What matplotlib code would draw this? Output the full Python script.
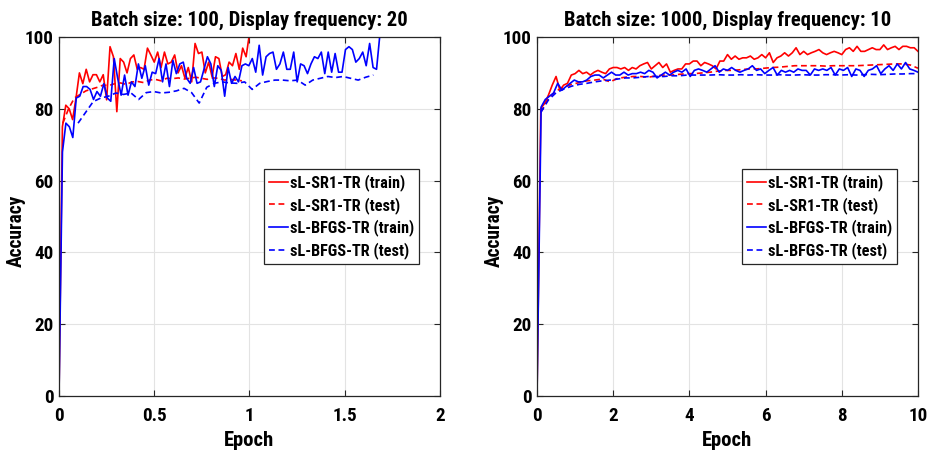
import numpy as np
import matplotlib
matplotlib.use("Agg")
import matplotlib.pyplot as plt
from matplotlib import font_manager

# ---------------- data: left panel (batch 100, display freq 20) ----------------
left_title = "Batch size: 100, Display frequency: 20"
left_sr1_train = [0, 75, 81, 80, 77, 83, 90, 87, 91, 87.5, 89.5, 89.5, 87.5, 89.5, 82.5, 97.3,
                  94.5, 79.2, 94, 93, 90, 94, 95, 91, 91.5, 91, 96.9, 95, 93, 95.8, 91.5, 95.8,
                  92.5, 93, 95, 90, 92, 88.6, 91.5, 87.5, 98.2, 95.4, 95.8, 90, 93, 88.9, 94.5,
                  94, 89, 89.5, 93, 92, 95.4, 91, 96.9, 94.5, 101]
left_sr1_train_end = 1.0
left_sr1_test = [76, 80, 83, 84, 85, 85.5, 86, 86.6, 86.5, 87, 87.2, 86.8, 87.5, 87.6, 87.3, 88,
                 88.2, 87.8, 88.5, 88.4, 88.6, 88.3, 88.5, 88.8, 88.5, 88.2, 88.6, 88.5, 88,
                 88.2, 88, 87.8]
left_sr1_test_range = (0.02, 0.96)
left_bfgs_train = [0, 68, 76, 75, 72, 83, 83.5, 86.2, 86.2, 85.4, 82.6, 84.8, 83.5, 87, 83, 82.1,
                   94, 88.5, 83.8, 89.4, 83.8, 87.5, 86.2, 92.5, 88.5, 92, 86.6, 90.2, 89.8, 94,
                   87.5, 92.5, 86.2, 93.5, 89.8, 92.5, 93, 88.5, 87.1, 91.5, 87.1, 87.5, 91, 94.5,
                   92.5, 86.2, 92, 90.7, 83.5, 91.5, 87.1, 89, 87.5, 92, 92.5, 92, 94, 90.2, 97.7,
                   89.4, 94.5, 95.4, 95.8, 91, 92.5, 95.8, 91, 91, 95.8, 87.5, 92.5, 92, 89.8,
                   92.5, 94.5, 94, 95.8, 89.8, 95.8, 90.2, 95.4, 90.2, 90.2, 96.5, 97.3, 96.5,
                   93, 94, 95.8, 92, 98.2, 91.5, 91, 101]
left_bfgs_train_end = 1.685
left_bfgs_test = [76, 79, 82, 83, 83.5, 84.4, 84, 84.4, 82.6, 84.5, 84.8, 84.4, 84.6, 85, 85.7,
                  84.5, 81.6, 86, 87.1, 87.5, 87.2, 87.1, 87.5, 85.4, 87.1, 87.6, 88, 88, 87.8,
                  88, 86.6, 88, 88.5, 89, 88.7, 89, 88.5, 88, 88.8, 89.4]
left_bfgs_test_range = (0.1, 1.65)
left_xticks = [0, 0.5, 1, 1.5, 2]
left_xticklabels = ["0", "0.5", "1", "1.5", "2"]

# ---------------- data: right panel (batch 1000, display freq 10) ----------------
right_title = "Batch size: 1000, Display frequency: 10"
right_sr1_train = [0, 80.1, 81.5, 83.8, 86.6, 89, 85.2, 86.6, 87.1, 89.4, 89.8, 90.7, 89.8, 90.2,
                   89.4, 90.2, 90.7, 90.2, 89.8, 91.1, 91.5, 91.5, 91.1, 91.5, 90.7, 91.5, 91.1,
                   92, 92.5, 92.9, 91.1, 92, 92.9, 91.5, 92.5, 90.2, 90.7, 91.1, 91.1, 92.5, 92.5,
                   93.3, 93.3, 92, 92.9, 92.5, 92, 91.1, 93.3, 93.3, 95.1, 93.8, 94.7, 93.8, 94.2,
                   94.2, 94.7, 93.8, 94.2, 95.1, 94.2, 95.6, 92.9, 94.2, 94.7, 95.6, 94.7, 95.6,
                   97, 95.1, 96, 95.1, 95.6, 96, 96.5, 95.6, 95.1, 95.6, 96, 95.6, 95.1, 96.5, 97,
                   96, 97.4, 96, 96, 96.5, 97, 96.5, 96.5, 97.8, 96.5, 97, 97.4, 96.5, 97.4, 97.4,
                   97, 97, 96]
right_sr1_test = [79, 83, 85, 86, 86.8, 87.3, 87.8, 88, 88.3, 87.5, 88.5, 88.8, 89, 89, 88.8,
                  89.2, 89.4, 89.4, 89.6, 89.8, 89.8, 90, 90.2, 90.5, 90.7, 90.7, 90.9, 91.1,
                  91.1, 91.3, 91.5, 91.6, 91.8, 92, 92, 92, 92, 91.9, 92, 92, 92, 92, 92.1, 92.2,
                  92.3, 92.4, 92.5, 92.5, 92.2, 91.3]
right_bfgs_train = [0, 80.5, 82.6, 83.5, 84.4, 87.1, 85.2, 86.2, 87.1, 88, 87.5, 87.5, 88, 89,
                    89.4, 89.4, 88.6, 89.4, 90.2, 89.4, 89.4, 90.2, 89.4, 89.8, 89.8, 90.2, 89.8,
                    90.7, 90.2, 88.6, 89.4, 90.2, 89.4, 90.2, 90.7, 90.2, 91.1, 89, 90.7, 91.1,
                    90.7, 90.2, 91.1, 92, 90.2, 91.1, 90.7, 91.5, 90.7, 90.2, 90.7, 91.1, 92, 90.7,
                    91.1, 89.8, 90.7, 91.5, 89.4, 90.7, 90.2, 90.7, 90.2, 91.1, 90.7, 90.7, 89.4,
                    91.1, 90.7, 91.1, 90.7, 91.5, 89.4, 91.1, 90.7, 91.5, 89, 91.1, 90.7, 89, 90.7,
                    91.1, 92, 89.8, 91.1, 92, 90.7, 92.5, 91.1, 92.9, 91.1, 90.7, 90.2]
right_bfgs_test = [79, 82.5, 84.5, 85.5, 86.3, 86.8, 87.1, 87.5, 87.8, 88, 88.3, 88.6, 88.6, 88.8,
                   89, 89, 89, 89.2, 89.2, 89.4, 89.4, 89.4, 89.4, 89.5, 89.4, 89.4, 89.5, 89.4,
                   89.5, 89.4, 89.4, 89.5, 89.4, 89.4, 89.5, 89.4, 89.4, 89.5, 89.5, 89.4, 89.5,
                   89.4, 89.5, 89.6, 89.5, 89.6, 89.7, 89.7, 89.8, 89.8]
right_test_range = (0.1, 10.0)
right_xticks = [0, 2, 4, 6, 8, 10]
right_xticklabels = ["0", "2", "4", "6", "8", "10"]

yticks = [0, 20, 40, 60, 80, 100]
labels = ["sL-SR1-TR (train)", "sL-SR1-TR (test)", "sL-BFGS-TR (train)", "sL-BFGS-TR (test)"]

# ---------------- fonts ----------------
names = {f.name for f in font_manager.fontManager.ttflist}
k = 1.0
chosen = None
for cand in ['Liberation Sans Narrow', 'Roboto Condensed', 'Arial Narrow', 'Open Sans Condensed']:
    if cand in names:
        chosen = cand
        break
if chosen is not None:
    plt.rcParams['font.family'] = [chosen, 'Liberation Sans', 'DejaVu Sans']
    k = 1.0 / 0.84
else:
    plt.rcParams['font.family'] = ['Liberation Sans', 'DejaVu Sans']
plt.rcParams['font.weight'] = 'bold'
fs_tick = 11.5 * k
fs_title = 12.5 * k
fs_xlabel = 12.5 * k
fs_ylabel = 11.8 * k
fs_leg = 9.8 * k

# ---------------- figure ----------------
fig = plt.figure(figsize=(9.29, 4.57), dpi=100)
W, H = 929, 457
def axrect(x0, x1, ytop, ybot):
    return [x0 / W, 1 - ybot / H, (x1 - x0) / W, (ybot - ytop) / H]

axL = fig.add_axes(axrect(59, 440, 37, 396))
axR = fig.add_axes(axrect(537, 918, 37, 396))

dash = (0, (3.5, 2.2))
lw = 1.2

def style(ax, title, xlim, xticks, xticklabels):
    ax.set_xlim(*xlim)
    ax.set_ylim(0, 100)
    ax.set_xticks(xticks)
    ax.set_xticklabels(xticklabels)
    ax.set_yticks(yticks)
    ax.grid(True, color='#e3e3e3', linewidth=0.8)
    ax.set_axisbelow(True)
    ax.tick_params(direction='in', top=True, right=True, length=4, width=0.8,
                   labelsize=fs_tick, color='#262626')
    ax.tick_params(axis='x', pad=8)
    ax.tick_params(axis='y', pad=4)
    for lab in ax.get_xticklabels() + ax.get_yticklabels():
        lab.set_fontweight('bold')
    for s in ax.spines.values():
        s.set_color('#262626')
        s.set_linewidth(0.9)
    ax.set_title(title, fontsize=fs_title, fontweight='bold', pad=8)
    ax.set_xlabel("Epoch", fontsize=fs_xlabel, fontweight='bold', labelpad=4)
    ax.set_ylabel("Accuracy", fontsize=fs_ylabel, fontweight='bold')
    ax.yaxis.set_label_coords(-0.087, 0.46)
    leg = ax.legend(loc='upper right', bbox_to_anchor=(0.945, 0.632), fontsize=fs_leg,
                    frameon=True, fancybox=False, framealpha=1, edgecolor='#262626',
                    handlelength=1.2, handletextpad=0.1, labelspacing=0.36,
                    borderpad=0.3, borderaxespad=0.0)
    leg.get_frame().set_linewidth(0.9)
    for t in leg.get_texts():
        t.set_fontweight('bold')

# left panel
x = np.linspace(0, left_sr1_train_end, len(left_sr1_train))
axL.plot(x, left_sr1_train, color='red', lw=lw, label=labels[0])
x = np.linspace(*left_sr1_test_range, len(left_sr1_test))
axL.plot(x, left_sr1_test, color='red', lw=lw, ls=dash, label=labels[1])
x = np.linspace(0, left_bfgs_train_end, len(left_bfgs_train))
axL.plot(x, left_bfgs_train, color='blue', lw=lw, label=labels[2])
x = np.linspace(*left_bfgs_test_range, len(left_bfgs_test))
axL.plot(x, left_bfgs_test, color='blue', lw=lw, ls=dash, label=labels[3])
style(axL, left_title, (0, 2), left_xticks, left_xticklabels)

# right panel
x = np.linspace(0, 10, len(right_sr1_train))
axR.plot(x, right_sr1_train, color='red', lw=lw, label=labels[0])
x = np.linspace(*right_test_range, len(right_sr1_test))
axR.plot(x, right_sr1_test, color='red', lw=lw, ls=dash, label=labels[1])
x = np.linspace(0, 10, len(right_bfgs_train))
axR.plot(x, right_bfgs_train, color='blue', lw=lw, label=labels[2])
x = np.linspace(*right_test_range, len(right_bfgs_test))
axR.plot(x, right_bfgs_test, color='blue', lw=lw, ls=dash, label=labels[3])
style(axR, right_title, (0, 10), right_xticks, right_xticklabels)

fig.savefig("out.png", dpi=100)
